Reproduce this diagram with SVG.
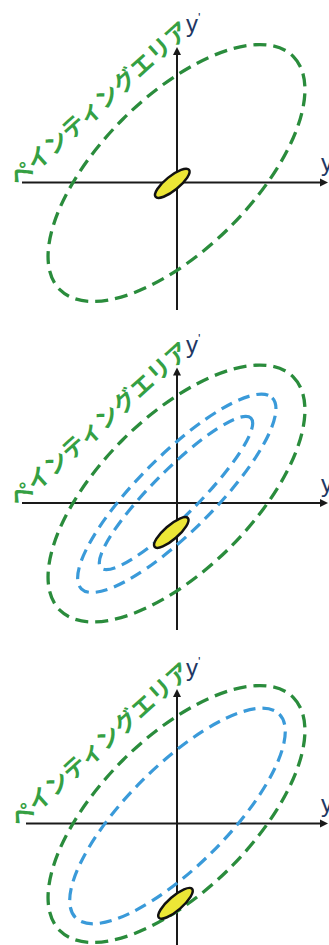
<svg xmlns="http://www.w3.org/2000/svg" width="329" height="945" viewBox="0 0 329 945">
<defs>
<style>
.axis{stroke:#1a1a1a;stroke-width:2;fill:none}
.head{fill:#1a1a1a}
.green{fill:none;stroke:#2a8c3c;stroke-width:3.3;stroke-dasharray:13 7}
.blue{fill:none;stroke:#3a9ad9;stroke-width:3.2;stroke-dasharray:12 7}
.spot{fill:#ece636;stroke:#111;stroke-width:2.5}
.jp{font-family:"Noto Sans CJK JP","Noto Sans",sans-serif;font-size:23px;fill:#35a043;font-weight:700}
.lbl{font-family:"Liberation Sans","DejaVu Sans",sans-serif;font-size:24px;fill:#1f3864}
</style>
</defs>
<g id="panel1">
<g id="connectors1">
<line class="axis" x1="22" y1="182.5" x2="322" y2="182.5"/>
<polygon class="head" points="328,182.5 320,178.5 320,186.5"/>
<line class="axis" x1="177" y1="310" x2="177" y2="53"/>
<polygon class="head" points="177,47 173,55 181,55"/>
</g>
<g id="area1"><ellipse class="green" cx="176.5" cy="173" rx="165" ry="76" transform="rotate(-45 176.5 173)"/></g>
<g id="spot1"><ellipse class="spot" cx="172.3" cy="183.3" rx="21.5" ry="7" transform="rotate(-39 172.3 183.3)"/></g>
<g id="title1"><text class="jp" x="98" y="102.5" text-anchor="middle" dominant-baseline="central" textLength="232" lengthAdjust="spacing" transform="rotate(-42 98 102.5)">ペインティングエリア</text></g>
<g id="ylabel1"><text class="lbl" x="186" y="32">y<tspan font-size="13" dy="-10">'</tspan></text></g>
<g id="xlabel1"><text class="lbl" x="321" y="171">y</text></g>
</g>
<g id="panel2">
<g id="connectors2">
<line class="axis" x1="22" y1="503" x2="322" y2="503"/>
<polygon class="head" points="328,503 320,499 320,507"/>
<line class="axis" x1="177" y1="630" x2="177" y2="373.5"/>
<polygon class="head" points="177,367.5 173,375.5 181,375.5"/>
</g>
<g id="area2"><ellipse class="green" cx="176.5" cy="493.5" rx="165" ry="76" transform="rotate(-45 176.5 493.5)"/></g>
<g id="path2a"><ellipse class="blue" cx="176.8" cy="493.3" rx="135" ry="38" transform="rotate(-45 176.8 493.3)"/></g>
<g id="path2b"><ellipse class="blue" cx="176" cy="493" rx="106" ry="23" transform="rotate(-45 176 493)"/></g>
<g id="spot2"><ellipse class="spot" cx="171.3" cy="532.5" rx="22" ry="7" transform="rotate(-41 171.3 532.5)"/></g>
<g id="title2"><text class="jp" x="98" y="423" text-anchor="middle" dominant-baseline="central" textLength="232" lengthAdjust="spacing" transform="rotate(-42 98 423)">ペインティングエリア</text></g>
<g id="ylabel2"><text class="lbl" x="186" y="352.5">y<tspan font-size="13" dy="-10">'</tspan></text></g>
<g id="xlabel2"><text class="lbl" x="321" y="491.5">y</text></g>
</g>
<g id="panel3">
<g id="connectors3">
<line class="axis" x1="26" y1="823.5" x2="322" y2="823.5"/>
<polygon class="head" points="328,823.5 320,819.5 320,827.5"/>
<line class="axis" x1="177" y1="945" x2="177" y2="695"/>
<polygon class="head" points="177,689 173,697 181,697"/>
</g>
<g id="area3"><ellipse class="green" cx="176.5" cy="814" rx="165" ry="76" transform="rotate(-45 176.5 814)"/></g>
<g id="path3"><ellipse class="blue" cx="177.5" cy="816" rx="144" ry="50" transform="rotate(-45 177.5 816)"/></g>
<g id="spot3"><ellipse class="spot" cx="175.5" cy="903.3" rx="22" ry="7" transform="rotate(-41 175.5 903.3)"/></g>
<g id="title3"><text class="jp" x="99" y="743.5" text-anchor="middle" dominant-baseline="central" textLength="232" lengthAdjust="spacing" transform="rotate(-42 99 743.5)">ペインティングエリア</text></g>
<g id="ylabel3"><text class="lbl" x="186" y="676">y<tspan font-size="13" dy="-10">'</tspan></text></g>
<g id="xlabel3"><text class="lbl" x="321" y="812">y</text></g>
</g>
</svg>
